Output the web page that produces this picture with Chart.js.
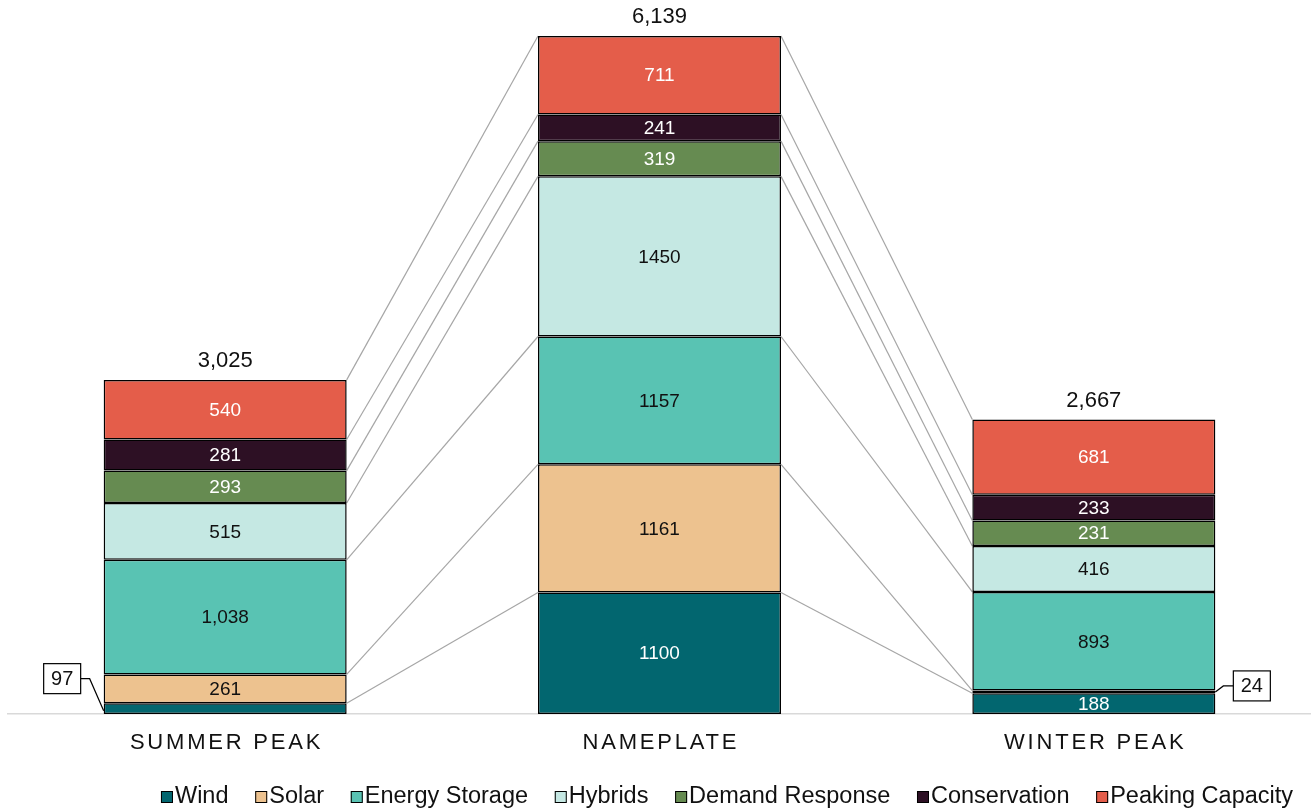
<!DOCTYPE html>
<html>
<head>
<meta charset="utf-8">
<script src="https://cdn.jsdelivr.net/npm/chart.js@4/dist/chart.umd.min.js"></script>
<style>
  html, body { margin: 0; padding: 0; background: #ffffff; }
  canvas { display: block; }
</style>
</head>
<body>
<canvas id="chart" width="1311" height="810"></canvas>
<script>
// Capacity by resource type (MW)
const categories = ['SUMMER PEAK', 'NAMEPLATE', 'WINTER PEAK'];
const wind = [97, 1100, 188];
const solar = [261, 1161, 24];
const energyStorage = [1038, 1157, 893];
const hybrids = [515, 1450, 416];
const demandResponse = [293, 319, 231];
const conservation = [281, 241, 233];
const peakingCapacity = [540, 711, 681];
const totals = [3025, 6139, 2667];
// whether each column's segment labels use a thousands separator
const groupThousands = [true, false, true];

const FONT = "'Liberation Sans', Arial, Helvetica, sans-serif";

const series = [
  { label: 'Wind', data: wind, color: '#02666F', text: '#ffffff' },
  { label: 'Solar', data: solar, color: '#EDC28F', text: '#111111' },
  { label: 'Energy Storage', data: energyStorage, color: '#59C3B3', text: '#111111' },
  { label: 'Hybrids', data: hybrids, color: '#C5E8E3', text: '#111111' },
  { label: 'Demand Response', data: demandResponse, color: '#668B51', text: '#ffffff' },
  { label: 'Conservation', data: conservation, color: '#2D1024', text: '#ffffff' },
  { label: 'Peaking Capacity', data: peakingCapacity, color: '#E45D4A', text: '#ffffff' }
];

function fmt(v, grouped) {
  return grouped ? v.toLocaleString('en-US') : String(v);
}

// Segment geometry straight from the bar elements
function seg(chart, ds, i) {
  const el = chart.getDatasetMeta(ds).data[i];
  return { left: el.x - el.width / 2, right: el.x + el.width / 2, x: el.x, top: el.y, base: el.base };
}

const connectorPlugin = {
  id: 'connectors',
  beforeDatasetsDraw(chart) {
    const ctx = chart.ctx;
    ctx.save();
    ctx.strokeStyle = '#A6A6A6';
    ctx.lineWidth = 1.2;
    for (let c = 0; c < categories.length - 1; c++) {
      series.forEach((s, ds) => {
        const a = seg(chart, ds, c);
        const b = seg(chart, ds, c + 1);
        ctx.beginPath();
        ctx.moveTo(a.right, a.top);
        ctx.lineTo(b.left, b.top);
        ctx.stroke();
      });
    }
    ctx.restore();
  }
};

const labelPlugin = {
  id: 'valueLabels',
  afterDatasetsDraw(chart) {
    const ctx = chart.ctx;
    ctx.save();
    ctx.textAlign = 'center';
    ctx.textBaseline = 'middle';
    // segment values
    series.forEach((s, ds) => {
      s.data.forEach((v, i) => {
        const g = seg(chart, ds, i);
        const h = g.base - g.top;
        const mid = (g.top + g.base) / 2;
        const text = fmt(v, groupThousands[i]);
        if (h >= 15) {
          ctx.font = '19px ' + FONT;
          ctx.fillStyle = s.text;
          ctx.fillText(text, g.x, mid + 1);
        } else {
          // thin segment: boxed callout beside the column
          const bw = 37, bh = 30;
          ctx.font = '20px ' + FONT;
          ctx.strokeStyle = '#000000';
          ctx.lineWidth = 1.2;
          let bx, by;
          if (i === 0) {
            bx = g.left - 23 - bw;
            by = mid - 30 - bh / 2;
            ctx.beginPath();
            ctx.moveTo(bx + bw, by + bh / 2);
            ctx.lineTo(bx + bw + 9, by + bh / 2);
            ctx.lineTo(g.left, mid + 2);
            ctx.stroke();
          } else {
            bx = g.right + 18;
            by = mid - 6 - bh / 2;
            ctx.beginPath();
            ctx.moveTo(g.right, mid);
            ctx.lineTo(g.right + 8, by + bh / 2);
            ctx.lineTo(bx, by + bh / 2);
            ctx.stroke();
          }
          ctx.fillStyle = '#ffffff';
          ctx.fillRect(bx, by, bw, bh);
          ctx.strokeRect(bx, by, bw, bh);
          ctx.fillStyle = '#111111';
          ctx.fillText(text, bx + bw / 2, by + bh / 2 + 1);
        }
      });
    });
    // column totals
    ctx.font = '22px ' + FONT;
    ctx.fillStyle = '#111111';
    totals.forEach((t, i) => {
      const g = seg(chart, series.length - 1, i);
      ctx.fillText(fmt(t, true), g.x, g.top - 19);
    });
    ctx.restore();
  },
  afterDraw(chart) {
    const ctx = chart.ctx;
    const xs = chart.scales.x;
    ctx.save();
    // category names, letter-spaced
    ctx.font = '22px ' + FONT;
    ctx.fillStyle = '#111111';
    ctx.textAlign = 'center';
    ctx.textBaseline = 'alphabetic';
    ctx.letterSpacing = '2.8px';
    categories.forEach((name, i) => {
      ctx.fillText(name, xs.getPixelForTick(i) + 1.4, 749);
    });
    ctx.letterSpacing = '0px';
    // legend
    ctx.font = '23.5px ' + FONT;
    ctx.textAlign = 'left';
    const box = 12, gap = 2, spacing = 26.7;
    const widths = series.map(s => box + gap + ctx.measureText(s.label).width);
    const total = widths.reduce((a, b) => a + b, 0) + spacing * (series.length - 1);
    let x = 727 - total / 2;
    const base = 803;
    series.forEach((s, k) => {
      ctx.fillStyle = s.color;
      ctx.fillRect(x, base - box, box, box);
      ctx.strokeStyle = '#000000';
      ctx.lineWidth = 1;
      ctx.strokeRect(x + 0.5, base - box + 0.5, box - 1, box - 1);
      ctx.fillStyle = '#111111';
      ctx.fillText(s.label, x + box + gap, base);
      x += widths[k] + spacing;
    });
    ctx.restore();
  }
};

new Chart(document.getElementById('chart'), {
  type: 'bar',
  data: {
    labels: categories,
    datasets: series.map(s => ({
      label: s.label,
      data: s.data,
      backgroundColor: s.color,
      borderColor: '#000000',
      borderWidth: 1.5,
      borderSkipped: false,
      barPercentage: 1,
      categoryPercentage: 0.5595
    }))
  },
  options: {
    responsive: false,
    animation: false,
    layout: { padding: { top: 36, left: 8, right: 0, bottom: 96 } },
    plugins: {
      legend: { display: false },
      tooltip: { enabled: false }
    },
    scales: {
      x: {
        stacked: true,
        offset: true,
        grid: { display: false, drawTicks: false },
        ticks: { display: false },
        border: { display: true, color: '#D9D9D9', width: 1.5 }
      },
      y: {
        stacked: true,
        display: false,
        min: 0,
        max: Math.max(...totals)
      }
    }
  },
  plugins: [connectorPlugin, labelPlugin]
});
</script>
</body>
</html>
